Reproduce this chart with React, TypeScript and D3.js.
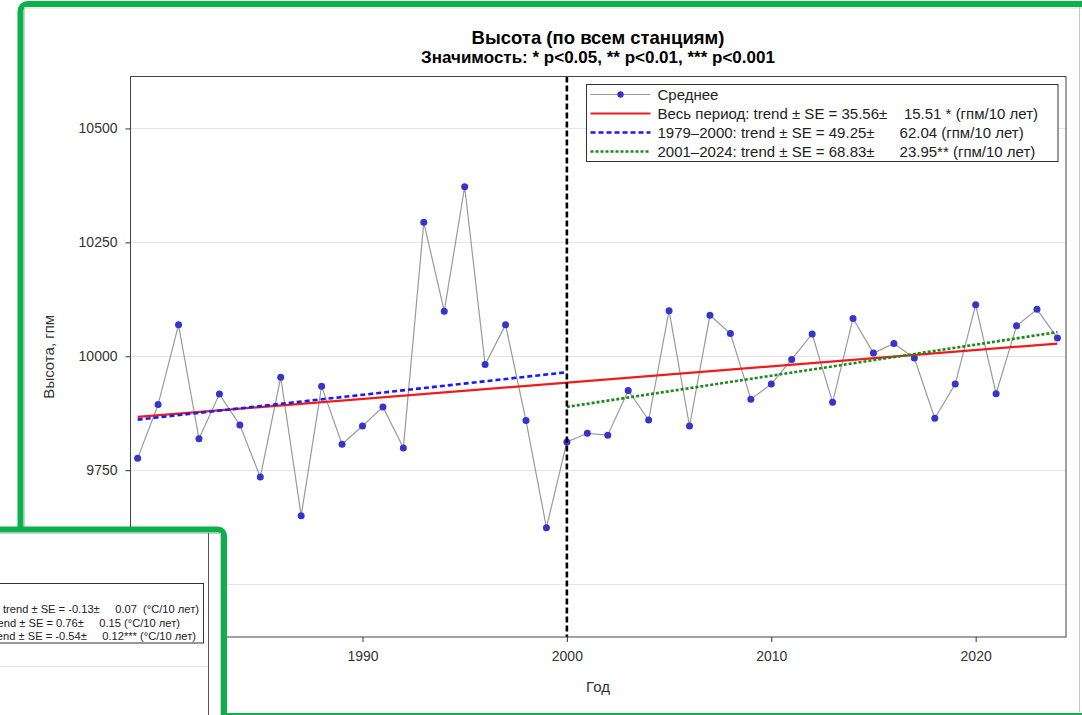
import { useEffect, useRef } from "react";
import * as d3 from "d3";

// годы и средняя высота по всем станциям (гпм)
const years = [
  1979, 1980, 1981, 1982, 1983, 1984, 1985, 1986, 1987, 1988, 1989, 1990,
  1991, 1992, 1993, 1994, 1995, 1996, 1997, 1998, 1999, 2000, 2001, 2002,
  2003, 2004, 2005, 2006, 2007, 2008, 2009, 2010, 2011, 2012, 2013, 2014,
  2015, 2016, 2017, 2018, 2019, 2020, 2021, 2022, 2023, 2024,
];
const heights = [
  9776, 9894, 10069, 9819, 9917, 9849, 9735, 9954, 9650, 9934, 9807, 9847,
  9889, 9799, 10294, 10099, 10372, 9982, 10069, 9859, 9624, 9812, 9831, 9827,
  9925, 9860, 10100, 9847, 10090, 10050, 9906, 9939, 9993, 10049, 9899, 10083,
  10007, 10028, 9996, 9864, 9939, 10113, 9918, 10067, 10103, 10040,
];

// линии тренда (концы)
const trendAllYears = [1979, 2024];
const trendAllValues = [9867, 10028];
const trend1Years = [1979, 2000];
const trend1Values = [9861, 9965];
const trend2Years = [2000, 2024];
const trend2Values = [9889, 10053];
const breakYear = 2000;

const yTicks = [9500, 9750, 10000, 10250, 10500];
const xTicks = [1990, 2000, 2010, 2020];

const legendLabels = [
  "Среднее",
  "Весь период: trend ± SE = 35.56±    15.51 * (гпм/10 лет)",
  "1979–2000: trend ± SE = 49.25±      62.04 (гпм/10 лет)",
  "2001–2024: trend ± SE = 68.83±      23.95** (гпм/10 лет)",
];

// соседнее окно (температура), видно только край легенды
const otherLegendLabels = [
  "Весь период: trend ± SE = -0.13±     0.07  (°C/10 лет)",
  "1979–2000: trend ± SE = 0.76±     0.15 (°C/10 лет)",
  "2001–2024: trend ± SE = -0.54±     0.12*** (°C/10 лет)",
];

const FONT = "'Liberation Sans', Arial, sans-serif";
const GREEN = "#0db04b";

export default function App() {
  const width = 1082;
  const height = 715;
  const left = 130.5;
  const right = 1066;
  const top = 76.5;
  const bottom = 637;

  const gx = useRef(null);
  const gy = useRef(null);

  const x = d3.scaleLinear().domain([1978.65, 2024.42]).range([left, right]);
  const y = d3.scaleLinear().domain([9384, 10614]).range([bottom, top]);

  useEffect(() => {
    const ax = d3
      .select(gx.current)
      // @ts-ignore
      .call(d3.axisBottom(x).tickValues(xTicks).tickSize(5).tickPadding(9).tickFormat(d3.format("d")));
    ax.attr("font-family", FONT).attr("font-size", 14);
    ax.select(".domain").remove();
    ax.selectAll(".tick line").attr("stroke", "#333");
    ax.selectAll(".tick text").attr("fill", "#333");

    const ay = d3
      .select(gy.current)
      // @ts-ignore
      .call(d3.axisLeft(y).tickValues(yTicks).tickSize(5).tickPadding(8).tickFormat(d3.format("d")));
    ay.attr("font-family", FONT).attr("font-size", 14);
    ay.select(".domain").remove();
    ay.selectAll(".tick line").attr("stroke", "#333");
    ay.selectAll(".tick text").attr("fill", "#333");
  }, [x, y]);

  const meanLine = d3
    .line<number>()
    .x((d, i) => x(years[i]))
    .y((d) => y(d));
  const seg = (ys: number[], vs: number[]) =>
    d3
      .line<number>()
      .x((d, i) => x(ys[i]))
      .y((d) => y(d))(vs) as string;

  const lgX = 586.5;
  const lgY = 84.5;
  const rowH = 19;

  return (
    <svg
      width={width}
      height={height}
      style={{ position: "absolute", left: 0, top: 0, background: "#fff" }}
      fontFamily={FONT}
    >
      <defs>
        <clipPath id="otherWin">
          <rect x={0} y={533} width={220} height={182} />
        </clipPath>
      </defs>

      {/* рамка окна */}
      <rect x={20.5} y={4} width={1100} height={712} rx={7} fill="#fff" stroke={GREEN} strokeWidth={6} />
      <line x1={24.5} x2={24.5} y1={7} y2={715} stroke="#cfcfcf" />
      <line x1={24} x2={1082} y1={8} y2={8} stroke="#d8d8d8" />
      <line x1={1079.5} x2={1079.5} y1={7} y2={712} stroke="#c8c8c8" />

      {/* заголовки */}
      <text x={598} y={44} textAnchor="middle" fontWeight="bold" fontSize={18.5} fill="#000">
        Высота (по всем станциям)
      </text>
      <text x={598} y={63} textAnchor="middle" fontWeight="bold" fontSize={17} fill="#000">
        Значимость: * p&lt;0.05, ** p&lt;0.01, *** p&lt;0.001
      </text>

      {/* сетка */}
      {yTicks.map((t) => (
        <line key={t} x1={left} x2={right} y1={Math.round(y(t)) + 0.5} y2={Math.round(y(t)) + 0.5} stroke="#e4e4e4" />
      ))}

      {/* данные */}
      <path d={meanLine(heights) as string} fill="none" stroke="#9a9a9a" strokeWidth={1.2} />
      {heights.map((v, i) => (
        <circle key={years[i]} cx={x(years[i])} cy={y(v)} r={3.5} fill="#3535cc" />
      ))}
      <path d={seg(trendAllYears, trendAllValues)} fill="none" stroke="#ee1c1c" strokeWidth={2.2} />
      <path d={seg(trend1Years, trend1Values)} fill="none" stroke="#1c1cf0" strokeWidth={2.6} strokeDasharray="5,3" />
      <path d={seg(trend2Years, trend2Values)} fill="none" stroke="#1a8a1a" strokeWidth={2.6} strokeDasharray="3,2" />
      <line
        x1={x(breakYear)}
        x2={x(breakYear)}
        y1={top}
        y2={bottom}
        stroke="#000"
        strokeWidth={2.6}
        strokeDasharray="6,3"
      />

      {/* оси */}
      <rect x={left} y={top} width={right - left} height={bottom - top} fill="none" stroke="#444" />
      <g ref={gx} transform={`translate(0,${bottom})`} />
      <g ref={gy} transform={`translate(${left},0)`} />
      <text x={598} y={692} textAnchor="middle" fontSize={15} fill="#333">
        Год
      </text>
      <text transform={`translate(54,${(top + bottom) / 2}) rotate(-90)`} textAnchor="middle" fontSize={15} fill="#333">
        Высота, гпм
      </text>

      {/* легенда */}
      <rect x={lgX} y={lgY} width={471.5} height={77} fill="#fff" stroke="#333" />
      {legendLabels.map((lab, i) => {
        const cy = lgY + 10 + i * rowH;
        const styles = [
          { stroke: "#9a9a9a", w: 1.2, dash: undefined },
          { stroke: "#ee1c1c", w: 2.2, dash: undefined },
          { stroke: "#1c1cf0", w: 2.6, dash: "5,3" },
          { stroke: "#1a8a1a", w: 2.6, dash: "3,2" },
        ][i];
        return (
          <g key={lab}>
            <line x1={lgX + 4} x2={lgX + 64} y1={cy} y2={cy} stroke={styles.stroke} strokeWidth={styles.w} strokeDasharray={styles.dash} />
            {i === 0 && <circle cx={lgX + 34} cy={cy} r={3.2} fill="#3535cc" />}
            <text x={lgX + 71} y={cy + 5} fontSize={15} fill="#222" style={{ whiteSpace: "pre" }}>
              {lab}
            </text>
          </g>
        );
      })}

      {/* соседнее окно поверх */}
      <rect x={-20} y={529.5} width={244} height={230} rx={6} fill="#fff" stroke={GREEN} strokeWidth={6} />
      <line x1={0} x2={220} y1={533.5} y2={533.5} stroke="#cfcfcf" />
      <line x1={220.5} x2={220.5} y1={533} y2={715} stroke="#cfcfcf" />
      <line x1={0} x2={208} y1={666.5} y2={666.5} stroke="#e4e4e4" />
      <line x1={208.5} x2={208.5} y1={533} y2={715} stroke="#555" />
      <rect x={-5} y={583.5} width={208.5} height={59.5} fill="#fff" stroke="#333" />
      <g clipPath="url(#otherWin)">
        {otherLegendLabels.map((lab, i) => (
          <text
            key={lab}
            x={[199, 180, 196][i]}
            y={613 + i * 13.5}
            textAnchor="end"
            fontSize={11.15}
            fill="#222"
            style={{ whiteSpace: "pre" }}
          >
            {lab}
          </text>
        ))}
      </g>
    </svg>
  );
}
